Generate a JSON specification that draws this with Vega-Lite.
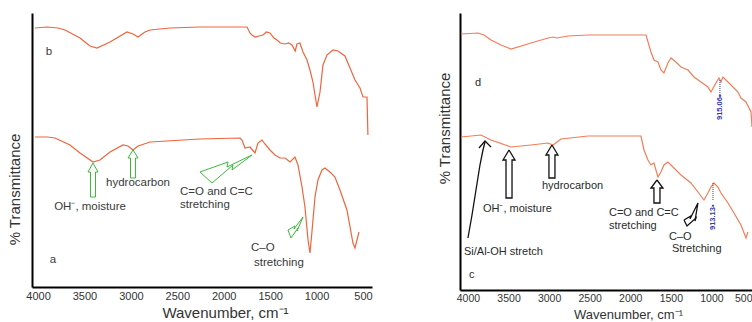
{
  "$schema": "https://vega.github.io/schema/vega-lite/v6.json",
  "padding": {"left": 7, "top": 13, "right": 0, "bottom": 0},
  "spacing": 64,
  "background": "white",
  "config": {
    "view": {"stroke": null},
    "font": "Liberation Sans",
    "axis": {"grid": false, "ticks": false, "domainColor": "#000000", "domainWidth": 2, "labelFont": "Liberation Sans", "titleFont": "Liberation Sans", "titleFontWeight": "normal", "labelColor": "#333333", "titleColor": "#333333"}
  },
  "hconcat": [
    {
      "width": 340,
      "height": 274,
      "encoding": {
        "x": {"field": "wn", "type": "quantitative", "scale": {"domain": [403, 4065], "reverse": true, "nice": false, "zero": false},
          "axis": {"values": [4000, 3500, 3000, 2500, 2000, 1500, 1000, 500], "format": "d", "labelFontSize": 11, "labelPadding": 3, "title": "Wavenumber, cm⁻¹", "titleFontSize": 15, "titleX": 193, "titleY": 18, "titleBaseline": "top"}},
        "y": {"field": "t", "type": "quantitative", "scale": {"domain": [0, 274], "nice": false, "zero": false},
          "axis": {"labels": false, "title": "% Transmittance", "titleFontSize": 15, "titleX": -10, "titleY": 176}}
      },
      "layer": [
        {
          "data": {"values": [
            {"s": "b", "wn": 4033, "t": 259}, {"s": "b", "wn": 3900, "t": 260}, {"s": "b", "wn": 3785, "t": 259}, {"s": "b", "wn": 3710, "t": 257},
            {"s": "b", "wn": 3548, "t": 249}, {"s": "b", "wn": 3440, "t": 241}, {"s": "b", "wn": 3365, "t": 239}, {"s": "b", "wn": 3225, "t": 245},
            {"s": "b", "wn": 3042, "t": 255}, {"s": "b", "wn": 2977, "t": 253}, {"s": "b", "wn": 2923, "t": 250}, {"s": "b", "wn": 2848, "t": 255},
            {"s": "b", "wn": 2794, "t": 257}, {"s": "b", "wn": 2579, "t": 259}, {"s": "b", "wn": 2256, "t": 260}, {"s": "b", "wn": 1749, "t": 260},
            {"s": "b", "wn": 1717, "t": 254}, {"s": "b", "wn": 1696, "t": 252}, {"s": "b", "wn": 1663, "t": 250}, {"s": "b", "wn": 1620, "t": 251},
            {"s": "b", "wn": 1577, "t": 252}, {"s": "b", "wn": 1540, "t": 255}, {"s": "b", "wn": 1502, "t": 254}, {"s": "b", "wn": 1459, "t": 249},
            {"s": "b", "wn": 1426, "t": 247}, {"s": "b", "wn": 1390, "t": 244}, {"s": "b", "wn": 1340, "t": 243}, {"s": "b", "wn": 1300, "t": 244},
            {"s": "b", "wn": 1265, "t": 242}, {"s": "b", "wn": 1230, "t": 236}, {"s": "b", "wn": 1211, "t": 243}, {"s": "b", "wn": 1179, "t": 244},
            {"s": "b", "wn": 1146, "t": 235}, {"s": "b", "wn": 1103, "t": 227}, {"s": "b", "wn": 1071, "t": 217}, {"s": "b", "wn": 1039, "t": 205},
            {"s": "b", "wn": 996, "t": 180}, {"s": "b", "wn": 963, "t": 195}, {"s": "b", "wn": 931, "t": 222}, {"s": "b", "wn": 888, "t": 232},
            {"s": "b", "wn": 823, "t": 237}, {"s": "b", "wn": 769, "t": 236}, {"s": "b", "wn": 694, "t": 231}, {"s": "b", "wn": 640, "t": 219},
            {"s": "b", "wn": 586, "t": 207}, {"s": "b", "wn": 532, "t": 199}, {"s": "b", "wn": 500, "t": 190}, {"s": "b", "wn": 457, "t": 190},
            {"s": "b", "wn": 447, "t": 152},
            {"s": "a", "wn": 4033, "t": 150}, {"s": "a", "wn": 3900, "t": 150}, {"s": "a", "wn": 3817, "t": 149}, {"s": "a", "wn": 3656, "t": 142},
            {"s": "a", "wn": 3548, "t": 134}, {"s": "a", "wn": 3408, "t": 125}, {"s": "a", "wn": 3333, "t": 127}, {"s": "a", "wn": 3225, "t": 135},
            {"s": "a", "wn": 3085, "t": 142}, {"s": "a", "wn": 3031, "t": 141}, {"s": "a", "wn": 2977, "t": 137}, {"s": "a", "wn": 2923, "t": 141},
            {"s": "a", "wn": 2794, "t": 145}, {"s": "a", "wn": 2256, "t": 148}, {"s": "a", "wn": 1825, "t": 149}, {"s": "a", "wn": 1803, "t": 147},
            {"s": "a", "wn": 1771, "t": 139}, {"s": "a", "wn": 1717, "t": 140}, {"s": "a", "wn": 1663, "t": 134}, {"s": "a", "wn": 1631, "t": 144},
            {"s": "a", "wn": 1588, "t": 147}, {"s": "a", "wn": 1556, "t": 143}, {"s": "a", "wn": 1502, "t": 137}, {"s": "a", "wn": 1448, "t": 132},
            {"s": "a", "wn": 1394, "t": 129}, {"s": "a", "wn": 1340, "t": 129}, {"s": "a", "wn": 1286, "t": 125}, {"s": "a", "wn": 1233, "t": 130},
            {"s": "a", "wn": 1200, "t": 122}, {"s": "a", "wn": 1157, "t": 100}, {"s": "a", "wn": 1125, "t": 80}, {"s": "a", "wn": 1092, "t": 47},
            {"s": "a", "wn": 1071, "t": 34}, {"s": "a", "wn": 1050, "t": 55}, {"s": "a", "wn": 1017, "t": 90}, {"s": "a", "wn": 985, "t": 107},
            {"s": "a", "wn": 942, "t": 117}, {"s": "a", "wn": 910, "t": 119}, {"s": "a", "wn": 856, "t": 115}, {"s": "a", "wn": 802, "t": 110},
            {"s": "a", "wn": 748, "t": 97}, {"s": "a", "wn": 673, "t": 77}, {"s": "a", "wn": 608, "t": 44}, {"s": "a", "wn": 586, "t": 39},
            {"s": "a", "wn": 565, "t": 47}, {"s": "a", "wn": 543, "t": 55}
          ]},
          "mark": {"type": "line", "color": "#f0643c", "strokeWidth": 1.2},
          "encoding": {"detail": {"field": "s"}}
        },
        {
          "data": {"values": [
            {"g": "oh", "i": 0, "wn": 3408, "t": 124}, {"g": "oh", "i": 1, "wn": 3354, "t": 115}, {"g": "oh", "i": 2, "wn": 3381, "t": 115}, {"g": "oh", "i": 3, "wn": 3381, "t": 90},
            {"g": "oh", "i": 4, "wn": 3435, "t": 90}, {"g": "oh", "i": 5, "wn": 3435, "t": 115}, {"g": "oh", "i": 6, "wn": 3462, "t": 115}, {"g": "oh", "i": 7, "wn": 3408, "t": 124},
            {"g": "hc", "i": 0, "wn": 2977, "t": 137}, {"g": "hc", "i": 1, "wn": 2923, "t": 129}, {"g": "hc", "i": 2, "wn": 2950, "t": 129}, {"g": "hc", "i": 3, "wn": 2950, "t": 109},
            {"g": "hc", "i": 4, "wn": 3004, "t": 109}, {"g": "hc", "i": 5, "wn": 3004, "t": 129}, {"g": "hc", "i": 6, "wn": 3031, "t": 129}, {"g": "hc", "i": 7, "wn": 2977, "t": 137},
            {"g": "co", "i": 0, "wn": 2256, "t": 115}, {"g": "co", "i": 1, "wn": 1954, "t": 125}, {"g": "co", "i": 2, "wn": 1965, "t": 120}, {"g": "co", "i": 3, "wn": 1696, "t": 132},
            {"g": "co", "i": 4, "wn": 1911, "t": 117}, {"g": "co", "i": 5, "wn": 1900, "t": 122}, {"g": "co", "i": 6, "wn": 2126, "t": 104}, {"g": "co", "i": 7, "wn": 2256, "t": 115},
            {"g": "c1", "i": 0, "wn": 1308, "t": 57}, {"g": "c1", "i": 1, "wn": 1233, "t": 61}, {"g": "c1", "i": 2, "wn": 1243, "t": 58}, {"g": "c1", "i": 3, "wn": 1146, "t": 70},
            {"g": "c1", "i": 4, "wn": 1211, "t": 56}, {"g": "c1", "i": 5, "wn": 1200, "t": 59}, {"g": "c1", "i": 6, "wn": 1276, "t": 49}, {"g": "c1", "i": 7, "wn": 1308, "t": 57}
          ]},
          "mark": {"type": "line", "color": "#3cba3c", "strokeWidth": 1},
          "encoding": {"detail": {"field": "g"}, "order": {"field": "i", "type": "quantitative"}}
        },
        {
          "data": {"values": [
            {"label": "b", "wn": 3882, "t": 235}, {"label": "a", "wn": 3839, "t": 27},
            {"label": "OH⁻, moisture", "wn": 3440, "t": 80}, {"label": "hydrocarbon", "wn": 2923, "t": 104}
          ]},
          "mark": {"type": "text", "fontSize": 11.5, "color": "#3a3a3a", "align": "center", "baseline": "middle"},
          "encoding": {"text": {"field": "label"}}
        },
        {
          "data": {"values": [
            {"label": "C=O and C=C", "wn": 2471, "t": 95}, {"label": "stretching", "wn": 2471, "t": 82},
            {"label": "C–O", "wn": 1706, "t": 39}, {"label": "stretching", "wn": 1674, "t": 24}
          ]},
          "mark": {"type": "text", "fontSize": 11.5, "color": "#3a3a3a", "align": "left", "baseline": "middle"},
          "encoding": {"text": {"field": "label"}}
        }
      ]
    },
    {
      "width": 292,
      "height": 277,
      "encoding": {
        "x": {"field": "wn", "type": "quantitative", "scale": {"domain": [500, 4098], "reverse": true, "nice": false, "zero": false},
          "axis": {"values": [4000, 3500, 3000, 2500, 2000, 1500, 1000, 500], "format": "d", "labelFontSize": 10.5, "labelPadding": 3, "labelFlush": true, "title": "Wavenumber, cm⁻¹", "titleFontSize": 13, "titleX": 168, "titleY": 18, "titleBaseline": "top"}},
        "y": {"field": "t", "type": "quantitative", "scale": {"domain": [0, 277], "nice": false, "zero": false},
          "axis": {"labels": false, "title": "% Transmittance", "titleFontSize": 15, "titleX": -8, "titleY": 115}}
      },
      "layer": [
        {
          "data": {"values": [
            {"s": "d", "wn": 4086, "t": 256}, {"s": "d", "wn": 3876, "t": 257}, {"s": "d", "wn": 3802, "t": 255}, {"s": "d", "wn": 3716, "t": 250},
            {"s": "d", "wn": 3593, "t": 245}, {"s": "d", "wn": 3470, "t": 241}, {"s": "d", "wn": 3223, "t": 247}, {"s": "d", "wn": 3014, "t": 252},
            {"s": "d", "wn": 2952, "t": 253}, {"s": "d", "wn": 2903, "t": 252}, {"s": "d", "wn": 2767, "t": 254}, {"s": "d", "wn": 2521, "t": 255},
            {"s": "d", "wn": 1806, "t": 255}, {"s": "d", "wn": 1745, "t": 238}, {"s": "d", "wn": 1708, "t": 230}, {"s": "d", "wn": 1659, "t": 228},
            {"s": "d", "wn": 1622, "t": 220}, {"s": "d", "wn": 1585, "t": 217}, {"s": "d", "wn": 1536, "t": 227}, {"s": "d", "wn": 1498, "t": 232},
            {"s": "d", "wn": 1437, "t": 228}, {"s": "d", "wn": 1375, "t": 223}, {"s": "d", "wn": 1289, "t": 220}, {"s": "d", "wn": 1215, "t": 213},
            {"s": "d", "wn": 1129, "t": 208}, {"s": "d", "wn": 1043, "t": 203}, {"s": "d", "wn": 1006, "t": 198}, {"s": "d", "wn": 944, "t": 207},
            {"s": "d", "wn": 907, "t": 212}, {"s": "d", "wn": 882, "t": 208}, {"s": "d", "wn": 858, "t": 213}, {"s": "d", "wn": 796, "t": 208},
            {"s": "d", "wn": 722, "t": 202}, {"s": "d", "wn": 673, "t": 198}, {"s": "d", "wn": 636, "t": 192}, {"s": "d", "wn": 574, "t": 188},
            {"s": "d", "wn": 512, "t": 178}, {"s": "d", "wn": 500, "t": 163},
            {"s": "c", "wn": 4086, "t": 153}, {"s": "c", "wn": 3839, "t": 155}, {"s": "c", "wn": 3716, "t": 150}, {"s": "c", "wn": 3470, "t": 143},
            {"s": "c", "wn": 3223, "t": 145}, {"s": "c", "wn": 3014, "t": 147}, {"s": "c", "wn": 2952, "t": 145}, {"s": "c", "wn": 2854, "t": 151},
            {"s": "c", "wn": 2521, "t": 154}, {"s": "c", "wn": 1868, "t": 154}, {"s": "c", "wn": 1831, "t": 140}, {"s": "c", "wn": 1782, "t": 130},
            {"s": "c", "wn": 1745, "t": 125}, {"s": "c", "wn": 1708, "t": 127}, {"s": "c", "wn": 1659, "t": 113}, {"s": "c", "wn": 1622, "t": 118},
            {"s": "c", "wn": 1585, "t": 125}, {"s": "c", "wn": 1536, "t": 128}, {"s": "c", "wn": 1462, "t": 122}, {"s": "c", "wn": 1375, "t": 115},
            {"s": "c", "wn": 1252, "t": 107}, {"s": "c", "wn": 1166, "t": 98}, {"s": "c", "wn": 1092, "t": 90}, {"s": "c", "wn": 1043, "t": 97},
            {"s": "c", "wn": 1006, "t": 103}, {"s": "c", "wn": 969, "t": 107}, {"s": "c", "wn": 920, "t": 103}, {"s": "c", "wn": 882, "t": 97},
            {"s": "c", "wn": 796, "t": 87}, {"s": "c", "wn": 722, "t": 77}, {"s": "c", "wn": 636, "t": 65}, {"s": "c", "wn": 574, "t": 52},
            {"s": "c", "wn": 550, "t": 58}
          ]},
          "mark": {"type": "line", "color": "#f47c58", "strokeWidth": 1.2},
          "encoding": {"detail": {"field": "s"}}
        },
        {
          "data": {"values": [
            {"g": "oh", "i": 0, "wn": 3494, "t": 140}, {"g": "oh", "i": 1, "wn": 3420, "t": 130}, {"g": "oh", "i": 2, "wn": 3457, "t": 130}, {"g": "oh", "i": 3, "wn": 3457, "t": 92},
            {"g": "oh", "i": 4, "wn": 3531, "t": 92}, {"g": "oh", "i": 5, "wn": 3531, "t": 130}, {"g": "oh", "i": 6, "wn": 3568, "t": 130}, {"g": "oh", "i": 7, "wn": 3494, "t": 140},
            {"g": "hc", "i": 0, "wn": 2965, "t": 145}, {"g": "hc", "i": 1, "wn": 2891, "t": 135}, {"g": "hc", "i": 2, "wn": 2928, "t": 135}, {"g": "hc", "i": 3, "wn": 2928, "t": 112},
            {"g": "hc", "i": 4, "wn": 3002, "t": 112}, {"g": "hc", "i": 5, "wn": 3002, "t": 135}, {"g": "hc", "i": 6, "wn": 3039, "t": 135}, {"g": "hc", "i": 7, "wn": 2965, "t": 145},
            {"g": "co", "i": 0, "wn": 1671, "t": 110}, {"g": "co", "i": 1, "wn": 1597, "t": 102}, {"g": "co", "i": 2, "wn": 1634, "t": 102}, {"g": "co", "i": 3, "wn": 1634, "t": 87},
            {"g": "co", "i": 4, "wn": 1708, "t": 87}, {"g": "co", "i": 5, "wn": 1708, "t": 102}, {"g": "co", "i": 6, "wn": 1745, "t": 102}, {"g": "co", "i": 7, "wn": 1671, "t": 110},
            {"g": "c1", "i": 0, "wn": 1338, "t": 70}, {"g": "c1", "i": 1, "wn": 1252, "t": 74}, {"g": "c1", "i": 2, "wn": 1264, "t": 71}, {"g": "c1", "i": 3, "wn": 1166, "t": 87},
            {"g": "c1", "i": 4, "wn": 1203, "t": 69}, {"g": "c1", "i": 5, "wn": 1191, "t": 72}, {"g": "c1", "i": 6, "wn": 1301, "t": 64}, {"g": "c1", "i": 7, "wn": 1338, "t": 70},
            {"g": "si", "i": 0, "wn": 4000, "t": 52}, {"g": "si", "i": 1, "wn": 3950, "t": 75}, {"g": "si", "i": 2, "wn": 3901, "t": 100}, {"g": "si", "i": 3, "wn": 3852, "t": 125},
            {"g": "si", "i": 4, "wn": 3815, "t": 140}, {"g": "si", "i": 5, "wn": 3790, "t": 148},
            {"g": "sh", "i": 0, "wn": 3864, "t": 142}, {"g": "sh", "i": 1, "wn": 3790, "t": 149}, {"g": "sh", "i": 2, "wn": 3716, "t": 143}
          ]},
          "mark": {"type": "line", "color": "#111111", "strokeWidth": 1.3},
          "encoding": {"detail": {"field": "g"}, "order": {"field": "i", "type": "quantitative"}}
        },
        {
          "data": {"values": [
            {"g": "p1", "wn": 895, "t": 210}, {"g": "p1", "wn": 895, "t": 192},
            {"g": "p2", "wn": 981, "t": 107}, {"g": "p2", "wn": 981, "t": 90}
          ]},
          "mark": {"type": "line", "color": "#3a3ab0", "strokeWidth": 1, "strokeDash": [1, 1]},
          "encoding": {"detail": {"field": "g"}}
        },
        {
          "data": {"values": [
            {"label": "915.06•", "wn": 895, "t": 170}, {"label": "913.13•", "wn": 981, "t": 60}
          ]},
          "mark": {"type": "text", "fontSize": 7.5, "fontWeight": "bold", "color": "#3a3ab0", "angle": 270, "align": "left", "baseline": "middle"},
          "encoding": {"text": {"field": "label"}}
        },
        {
          "data": {"values": [
            {"label": "d", "wn": 3913, "t": 207}, {"label": "c", "wn": 3987, "t": 15},
            {"label": "Si/Al-OH stretch", "wn": 4049, "t": 38}, {"label": "OH⁻, moisture", "wn": 3815, "t": 81},
            {"label": "hydrocarbon", "wn": 3088, "t": 104}, {"label": "C=O and C=C", "wn": 2262, "t": 77},
            {"label": "stretching", "wn": 2262, "t": 64}, {"label": "C–O", "wn": 1523, "t": 53},
            {"label": "Stretching", "wn": 1486, "t": 41}
          ]},
          "mark": {"type": "text", "fontSize": 11, "color": "#2a2a2a", "align": "left", "baseline": "middle"},
          "encoding": {"text": {"field": "label"}}
        }
      ]
    }
  ]
}
